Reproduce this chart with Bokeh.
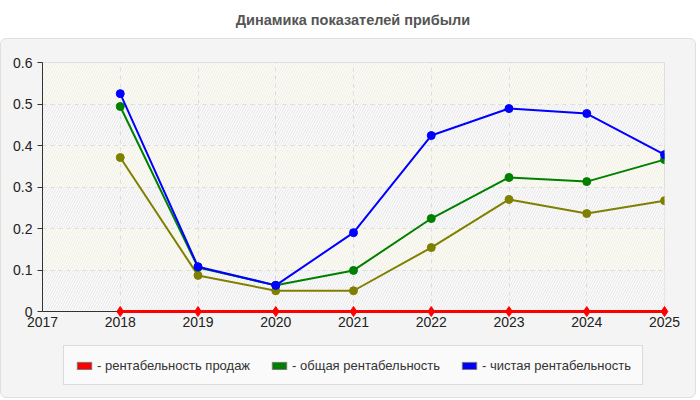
from bokeh.plotting import figure
from bokeh.layouts import column
from bokeh.models import BoxAnnotation, Div, FixedTicker, Legend, LegendItem, Range1d
from bokeh.embed import file_html
from bokeh.resources import INLINE

years = [2018, 2019, 2020, 2021, 2022, 2023, 2024, 2025]
sales_margin = [0, 0, 0, 0, 0, 0, 0, 0]
total_margin = [0.494, 0.106, 0.063, 0.099, 0.224, 0.323, 0.313, 0.366]
net_margin = [0.525, 0.108, 0.063, 0.190, 0.424, 0.489, 0.477, 0.378]
other_series = [0.371, 0.087, 0.050, 0.050, 0.154, 0.270, 0.236, 0.267]

x_ticks = [2017, 2018, 2019, 2020, 2021, 2022, 2023, 2024, 2025]
y_ticks = [0, 0.1, 0.2, 0.3, 0.4, 0.5, 0.6]

labels = ["- рентабельность продаж", "- общая рентабельность", "- чистая рентабельность"]
colors = ["#ff0000", "#008000", "#0000ff"]

FONT = "Liberation Sans"

title = Div(
    text="Динамика показателей прибыли",
    width=696, height=28,
    styles={"font-weight": "bold", "font-size": "14.5px", "color": "#555555",
            "text-align": "center", "font-family": FONT, "line-height": "30px",
            "width": "696px"},
)

p = figure(width=694, height=300, output_backend="svg", toolbar_location=None,
           x_range=Range1d(2017, 2025), y_range=Range1d(0, 0.6),
           min_border_left=41, min_border_right=31, min_border_top=23,
           min_border_bottom=28,
           border_fill_alpha=0, background_fill_color="#fcfcf4",
           outline_line_color="#dddddd")

p.xaxis.ticker = FixedTicker(ticks=x_ticks)
p.yaxis.ticker = FixedTicker(ticks=y_ticks)
p.yaxis.major_label_overrides = {0: "0"}
for ax in (p.xaxis, p.yaxis):
    ax.axis_line_color = "#333333"
    ax.major_tick_line_color = "#333333"
    ax.minor_tick_line_color = None
    ax.major_label_text_font = FONT
    ax.major_label_text_font_size = "14px"
    ax.major_label_text_color = "#222222"
p.xaxis.major_tick_out = 0
p.xaxis.major_tick_in = 0
p.yaxis.major_tick_out = 5
p.yaxis.major_tick_in = 0

for g in (p.xgrid, p.ygrid):
    g.grid_line_color = "#dddddd"
    g.grid_line_dash = "4 4"

# faint hatch over the whole plot area, stronger on every other band
p.add_layout(BoxAnnotation(level="image", fill_alpha=0, line_alpha=0,
                           hatch_pattern="/", hatch_color="#eeeee6",
                           hatch_scale=5, hatch_weight=1))
for i in range(0, len(y_ticks) - 1, 2):
    p.add_layout(BoxAnnotation(bottom=y_ticks[i], top=y_ticks[i + 1], level="image",
                               fill_color="#fcfcfc", fill_alpha=1, line_alpha=0,
                               hatch_pattern="/", hatch_color="#e6e6e6",
                               hatch_scale=5, hatch_weight=1))

p.line(years, other_series, line_color="#808000", line_width=2)
p.scatter(years, other_series, size=8, color="#808000")

p.line(years, total_margin, line_color=colors[1], line_width=2)
p.scatter(years, total_margin, size=8, color=colors[1])

p.line(years, net_margin, line_color=colors[2], line_width=2)
p.scatter(years, net_margin, size=8, color=colors[2])

p.line(years, sales_margin, line_color=colors[0], line_width=3, level="overlay")
p.scatter(years, sales_margin, size=10, marker="diamond", color=colors[0], level="overlay")

# legend lives in its own strip under the chart; the swatch renderers hold the
# series data but lie far outside this strip's ranges, so only the legend shows
lg = figure(width=694, height=58, output_backend="svg", toolbar_location=None,
            x_range=Range1d(0, 1), y_range=Range1d(0, 1),
            x_axis_type=None, y_axis_type=None,
            min_border=0, border_fill_alpha=0, background_fill_alpha=0,
            outline_line_color=None)
lg.xgrid.visible = False
lg.ygrid.visible = False

swatches = []
for c, vals in zip(colors, [sales_margin, total_margin, net_margin]):
    swatches.append(lg.quad(left=years, right=years, top=vals, bottom=vals,
                            fill_color=c, line_color="#777777", line_width=1))

legend = Legend(
    items=[LegendItem(label=lab, renderers=[sw]) for lab, sw in zip(labels, swatches)],
    orientation="horizontal", location="top_center",
    label_text_font=FONT, label_text_font_size="13px", label_text_color="#333333",
    glyph_width=18, glyph_height=9, label_standoff=4, spacing=20,
    padding=11, margin=6, label_height=16,
    background_fill_color="#fafafa", border_line_color="#bbbbbb",
)
lg.add_layout(legend, "center")

layout = column(title, column(p, lg, spacing=0,
                              styles={"border": "1px solid #e0e0e0", "border-radius": "6px",
                                      "background-color": "#f4f4f4"}))
open("out.html", "w").write(file_html(layout, INLINE))
